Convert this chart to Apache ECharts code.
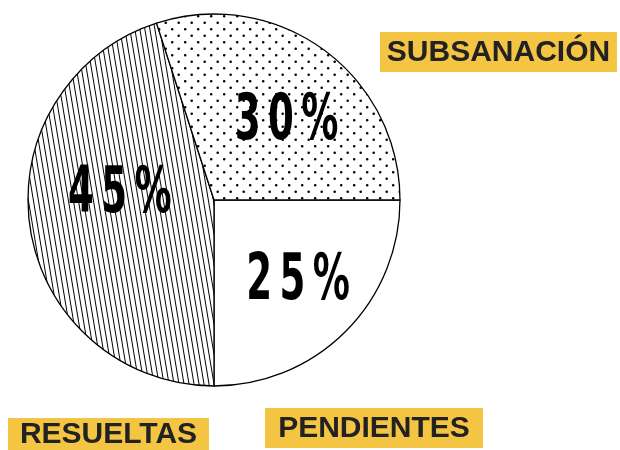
<!DOCTYPE html>
<html>
<head>
<meta charset="utf-8">
<script src="https://cdn.jsdelivr.net/npm/echarts@6/dist/echarts.min.js"></script>
<style>
  html, body { margin: 0; padding: 0; background: #fff; }
  #main { width: 620px; height: 450px; }
</style>
</head>
<body>
<div id="main"></div>
<script>
// datos del grafico
var categorias = ['PENDIENTES', 'RESUELTAS', 'SUBSANACIÓN'];
var valores = [25, 45, 30];
var etiquetas = ['25%', '45%', '30%'];

// tramas (rellenos) hechas con canvas
function tramaPuntos() {
  var c = document.createElement('canvas');
  c.width = 13; c.height = 13;
  var ctx = c.getContext('2d');
  ctx.fillStyle = '#fff';
  ctx.fillRect(0, 0, 13, 13);
  ctx.fillStyle = '#000';
  ctx.beginPath();
  ctx.arc(3.2, 3.2, 1.3, 0, Math.PI * 2);
  ctx.arc(9.7, 9.7, 1.3, 0, Math.PI * 2);
  ctx.fill();
  return c;
}

function tramaLineas() {
  var c = document.createElement('canvas');
  c.width = 20; c.height = 30;
  var ctx = c.getContext('2d');
  ctx.fillStyle = '#fff';
  ctx.fillRect(0, 0, 20, 30);
  ctx.strokeStyle = '#000';
  ctx.lineWidth = 1;
  for (var x = -10; x <= 25; x += 5) {
    ctx.beginPath();
    ctx.moveTo(x, 0);
    ctx.lineTo(x + 5, 30);
    ctx.stroke();
  }
  return c;
}

var rellenos = [
  '#ffffff',
  { image: tramaLineas(), repeat: 'repeat' },
  { image: tramaPuntos(), repeat: 'repeat' }
];

// ajuste de la posicion de los porcentajes
var desplaz = [[28, 14], [1, -20], [28, 0]];

// cajas amarillas con los nombres
var cajas = [
  { x: 265, y: 408, w: 218, h: 40 },
  { x: 8, y: 418, w: 201, h: 32 },
  { x: 380, y: 32, w: 237, h: 40 }
];

var datos = categorias.map(function (n, i) {
  return {
    name: n,
    value: valores[i],
    itemStyle: { color: rellenos[i] },
    // espacios finos entre caracteres
    label: { formatter: etiquetas[i].split('').join('\u2009') }
  };
});

var graficos = [];
categorias.forEach(function (n, i) {
  var b = cajas[i];
  graficos.push({
    type: 'rect',
    shape: { x: b.x, y: b.y, width: b.w, height: b.h },
    style: { fill: '#F4C542' }
  });
  graficos.push({
    type: 'text',
    x: b.x + b.w / 2,
    y: b.y + b.h / 2 + 1,
    style: {
      text: n,
      fill: '#222',
      font: 'bold 30px "Liberation Sans", Arial, sans-serif',
      align: 'center',
      verticalAlign: 'middle'
    }
  });
});

var chart = echarts.init(document.getElementById('main'), null, { renderer: 'canvas' });

var option = {
  animation: false,
  backgroundColor: '#fff',
  series: [{
    type: 'pie',
    center: [214, 200],
    radius: 186,
    startAngle: 0,
    clockwise: true,
    silent: true,
    data: datos,
    itemStyle: { borderColor: '#000', borderWidth: 1.3 },
    label: {
      show: true,
      position: 'inside',
      color: '#000',
      fontFamily: '"DejaVu Sans", sans-serif',
      fontWeight: 'bold',
      fontSize: 64
    },
    labelLine: { show: false },
    labelLayout: function (p) {
      var d = desplaz[p.dataIndex];
      return { dx: d[0], dy: d[1] };
    }
  }],
  graphic: graficos
};

chart.setOption(option);

// no hay fuente condensada instalada: se estrechan las etiquetas
var serie = chart.getModel().getSeriesByIndex(0).getData();
serie.each(function (idx) {
  var el = serie.getItemGraphicEl(idx);
  var txt = el && el.getTextContent();
  if (txt) {
    txt.scaleX = 0.58;
    txt.markRedraw();
  }
});
chart.getZr().refreshImmediately();
</script>
</body>
</html>
